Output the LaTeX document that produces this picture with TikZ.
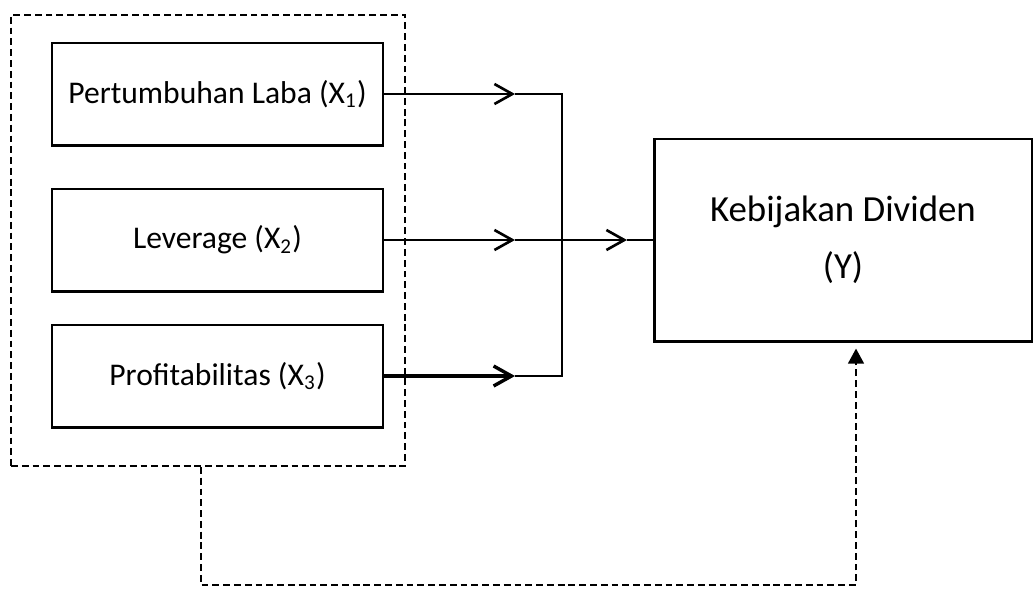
\documentclass[tikz,border=0pt]{standalone}
\usepackage{fontspec}
\setmainfont{Carlito}
\usetikzlibrary{arrows.meta}

\tikzset{
  variabel/.style={draw, line width=1.1pt, minimum width=125.8pt, minimum height=38.8pt,
    inner sep=0pt, font=\fontsize{12}{14}\selectfont},
  hubungan/.style={line width=1pt},
  garis/.style={line width=0.7pt, dash pattern=on 2.6pt off 1.5pt},
  barb/.style={-{Straight Barb[length=6.8pt, width=7.6pt]}}
}

\begin{document}
\begin{tikzpicture}[x=0.38pt, y=-0.38pt]
        \useasboundingbox (0,0) rectangle (1033,588);

        % =========================================
        % === VARIABEL INDEPENDEN (kiri) ===
        % =========================================

        % Kotak putus-putus pengelompok
        \node[draw, garis, minimum width=149.7pt, minimum height=171.4pt, inner sep=0pt] (grup) at (208,240.5) {};

        \node[variabel] (p1) at (217.5,94) {Pertumbuhan Laba (X\textsubscript{1})};
        \node[variabel] (p2) at (217.5,240) {Leverage (X\textsubscript{2})};
        \node[variabel] (p3) at (217.5,376) {Profitabilitas (X\textsubscript{3})};

        % =========================================
        % === VARIABEL DEPENDEN (kanan) ===
        % =========================================

        \node[draw, line width=1.1pt, minimum width=143.6pt, minimum height=76.8pt, inner sep=0pt,
              align=center, font=\fontsize{14}{21.7}\selectfont] (ky) at (843,240) {Kebijakan Dividen\\(Y)};

        % Titik bantu untuk panah dan sambungan
        \coordinate (a1) at (515,94);
        \coordinate (a2) at (515,240);
        \coordinate (a3) at (515,376);
        \coordinate (j1) at (562,94);
        \coordinate (j2) at (562,240);
        \coordinate (j3) at (562,376);
        \coordinate (a4) at (627,240);

        % Panah parsial X1, X2, X3
        \draw[hubungan, barb] (p1.east) -- (a1);
        \draw[hubungan] (a1) -- (j1) -- (j3) -- (a3);
        \draw[hubungan, barb] (p2.east) -- (a2);
        \draw[hubungan] (a2) -- (j2);
        \draw[line width=1.3pt, barb] (p3.east) -- (a3);

        % Panah gabungan ke Y
        \draw[hubungan, barb] (j2) -- (a4);
        \draw[hubungan] (a4) -- (ky.west);

        % Pengaruh simultan (garis putus-putus)
        \coordinate (d1) at (201,585);
        \coordinate (d2) at (856,585);
        \draw[garis, -{Triangle[length=5.7pt, width=6pt]}, shorten >=2.3pt]
            (grup.south -| d1) -- (d1) -- (d2) -- (d2 |- ky.south);

\end{tikzpicture}
\end{document}
